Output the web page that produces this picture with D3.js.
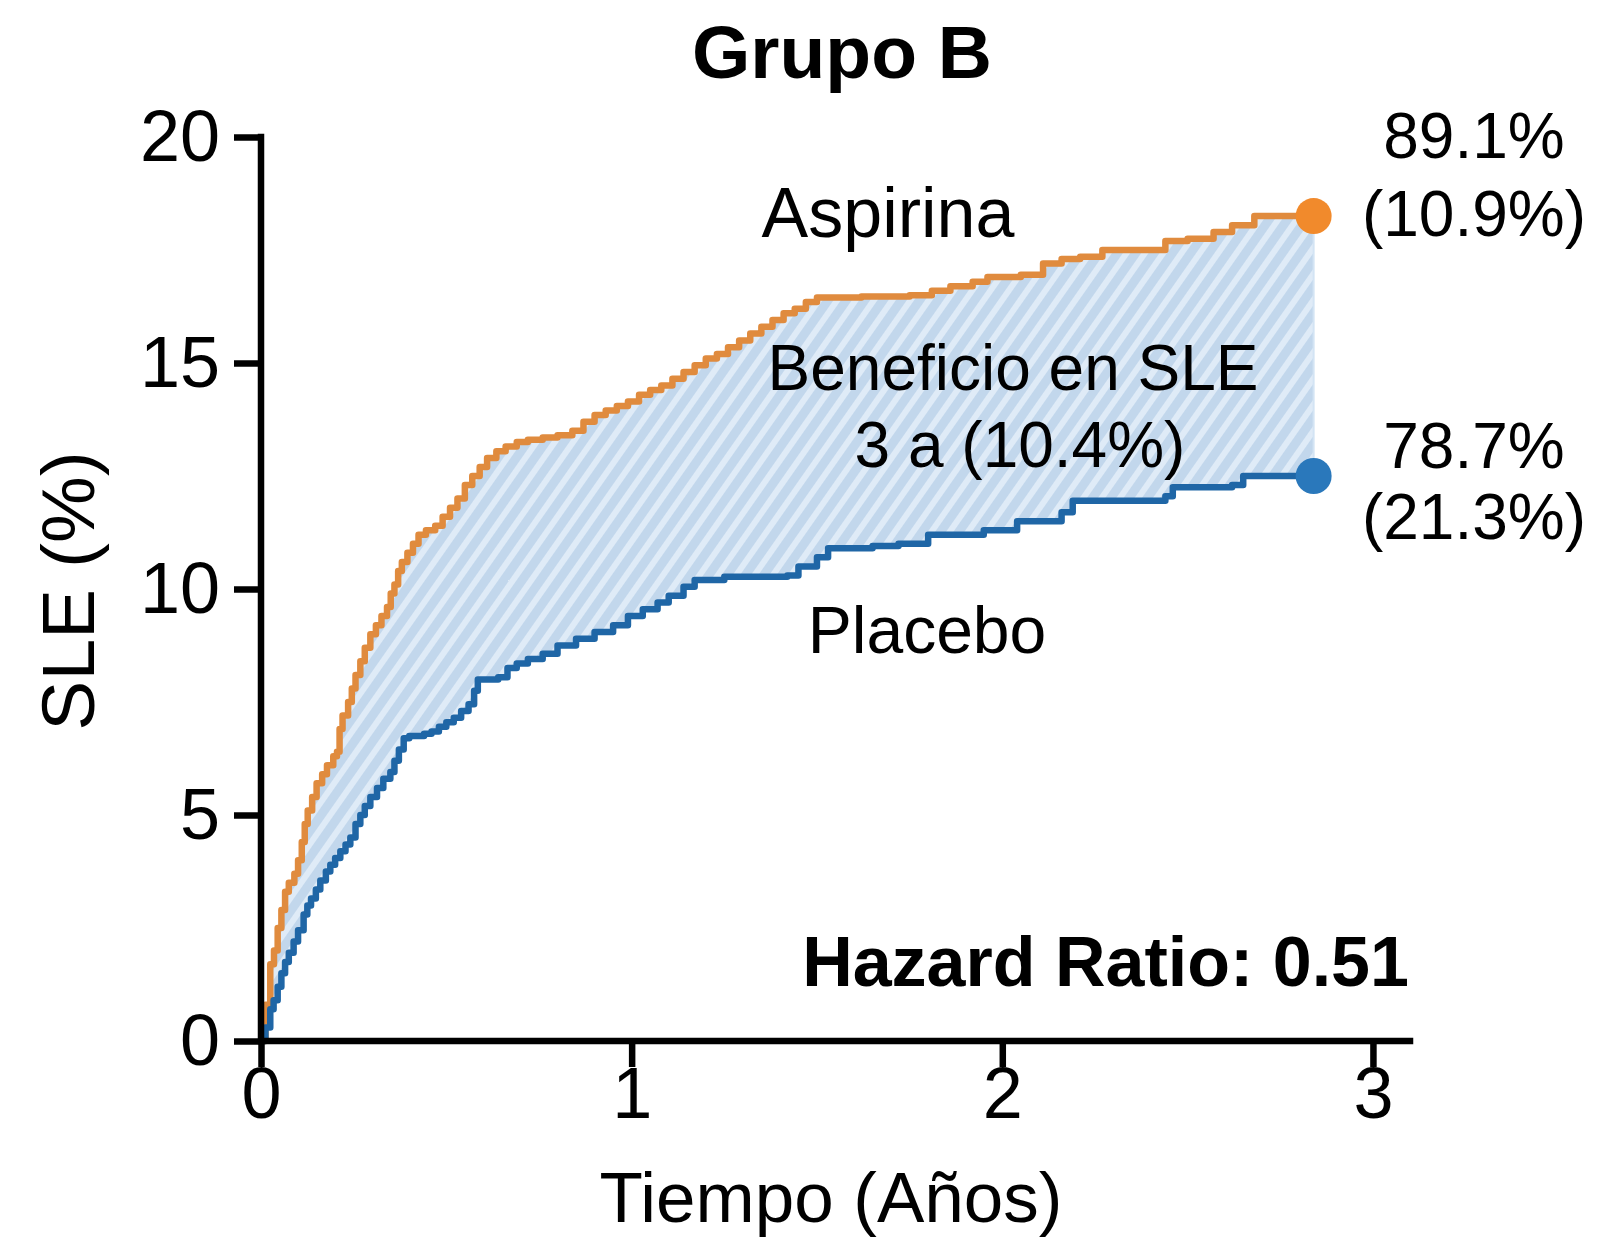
<!DOCTYPE html>
<html>
<head>
<meta charset="utf-8">
<script src="https://cdn.jsdelivr.net/npm/d3@7"></script>
<style>
  html, body { margin: 0; padding: 0; background: #ffffff; }
  svg { display: block; font-family: "Liberation Sans", Arial, Helvetica, sans-serif; }
</style>
</head>
<body>
<svg id="chart" width="1619" height="1246"></svg>
<script>
// Kaplan–Meier style step curves (time in years, SLE in %)
const aspirinaTime = [0,0.012,0.025,0.035,0.045,0.055,0.065,0.075,0.09,0.1,0.11,0.118,0.126,0.138,0.15,0.165,0.178,0.195,0.205,0.212,0.22,0.235,0.245,0.255,0.268,0.28,0.295,0.31,0.325,0.34,0.35,0.36,0.37,0.38,0.395,0.41,0.425,0.445,0.47,0.49,0.51,0.53,0.55,0.57,0.59,0.61,0.635,0.66,0.69,0.72,0.76,0.8,0.84,0.87,0.9,0.93,0.96,0.99,1.02,1.05,1.08,1.11,1.14,1.17,1.2,1.23,1.26,1.29,1.32,1.35,1.38,1.41,1.44,1.47,1.5,1.62,1.75,1.81,1.86,1.92,1.96,2.05,2.11,2.16,2.21,2.27,2.44,2.5,2.57,2.62,2.68,2.84];
const aspirinaSLE  = [0,0.8,1.7,2.0,2.5,2.9,3.3,3.5,3.7,4.0,4.4,4.8,5.1,5.4,5.7,5.9,6.1,6.3,6.4,6.9,7.2,7.5,7.8,8.1,8.4,8.7,9.0,9.2,9.4,9.6,9.9,10.1,10.4,10.6,10.8,11.0,11.2,11.3,11.4,11.6,11.8,12.0,12.3,12.5,12.7,12.9,13.05,13.15,13.25,13.3,13.35,13.4,13.5,13.7,13.85,13.95,14.05,14.15,14.3,14.4,14.5,14.65,14.8,14.95,15.1,15.2,15.35,15.5,15.65,15.8,15.95,16.1,16.2,16.35,16.45,16.47,16.5,16.6,16.7,16.8,16.9,16.95,17.2,17.3,17.35,17.5,17.7,17.75,17.9,18.05,18.25,18.25];

const placeboTime = [0,0.012,0.025,0.034,0.045,0.055,0.065,0.075,0.088,0.1,0.115,0.125,0.135,0.148,0.16,0.175,0.187,0.2,0.214,0.228,0.241,0.255,0.268,0.28,0.295,0.313,0.33,0.349,0.36,0.372,0.385,0.4,0.44,0.46,0.48,0.5,0.52,0.54,0.56,0.575,0.585,0.64,0.665,0.69,0.72,0.76,0.8,0.85,0.9,0.95,0.99,1.03,1.07,1.1,1.14,1.17,1.25,1.42,1.45,1.5,1.53,1.65,1.72,1.8,1.95,2.04,2.16,2.19,2.44,2.46,2.62,2.65,2.84];
const placeboSLE  = [0,0.3,0.7,0.9,1.2,1.5,1.75,1.95,2.2,2.45,2.8,3.0,3.15,3.35,3.55,3.75,3.9,4.05,4.2,4.35,4.5,4.8,5.0,5.2,5.4,5.6,5.8,5.95,6.2,6.45,6.7,6.75,6.8,6.85,6.95,7.05,7.15,7.3,7.45,7.75,8.0,8.05,8.25,8.35,8.45,8.57,8.75,8.9,9.05,9.2,9.4,9.55,9.7,9.85,10.05,10.2,10.27,10.3,10.5,10.7,10.9,10.95,11.0,11.2,11.3,11.5,11.7,11.95,12.05,12.25,12.3,12.5,12.5];

const xTickValues = [0, 1, 2, 3];
const yTickValues = [0, 5, 10, 15, 20];

const aspirinaEndLabels = ["89.1%", "(10.9%)"];
const placeboEndLabels  = ["78.7%", "(21.3%)"];
const benefitLabels     = ["Beneficio en SLE", "3 a (10.4%)"];
const hazardLabel       = "Hazard Ratio: 0.51";

const aspirina = aspirinaTime.map((t, i) => ({ t, v: aspirinaSLE[i] }));
const placebo  = placeboTime.map((t, i) => ({ t, v: placeboSLE[i] }));

const svg = d3.select("#chart");
const FONT = '"Liberation Sans", Arial, Helvetica, sans-serif';

const x = d3.scaleLinear().domain([0, 3.1]).range([261, 1410]);
const y = d3.scaleLinear().domain([0, 20]).range([1041, 137]);

// Hatched fill for the area between the two curves
const defs = svg.append("defs");
const pat = defs.append("pattern")
  .attr("id", "hatch")
  .attr("patternUnits", "userSpaceOnUse")
  .attr("width", 15).attr("height", 15)
  .attr("patternTransform", "rotate(35)");
pat.append("rect").attr("width", 15).attr("height", 15).attr("fill", "#c2d7ec");
pat.append("rect").attr("width", 6).attr("height", 15).attr("fill", "#dfebf7");

// Step-function lookup on the union of event times
const stepAt = (series, t) => {
  const i = d3.bisector(d => d.t).right(series, t) - 1;
  return series[Math.max(0, i)].v;
};
const tEnd = Math.min(aspirinaTime[aspirinaTime.length - 1], placeboTime[placeboTime.length - 1]);
const allTimes = Array.from(new Set(aspirinaTime.concat(placeboTime)))
  .filter(t => t <= tEnd).sort((a, b) => a - b);
const band = allTimes.map(t => ({ t, hi: stepAt(aspirina, t), lo: stepAt(placebo, t) }));

const area = d3.area()
  .x(d => x(d.t)).y0(d => y(d.lo)).y1(d => y(d.hi))
  .curve(d3.curveStepAfter);

svg.append("path")
  .datum(band)
  .attr("d", area)
  .attr("fill", "url(#hatch)")
  .attr("stroke", "#d3e4f4")
  .attr("stroke-width", 2);

// Curves
const line = d3.line().x(d => x(d.t)).y(d => y(d.v)).curve(d3.curveStepAfter);

svg.append("path").datum(aspirina).attr("d", line)
  .attr("fill", "none").attr("stroke", "#e08b3e").attr("stroke-width", 6.5)
  .attr("stroke-linejoin", "round");
svg.append("path").datum(placebo).attr("d", line)
  .attr("fill", "none").attr("stroke", "#1f66a6").attr("stroke-width", 6.5)
  .attr("stroke-linejoin", "round");

// End points
const aEnd = aspirina[aspirina.length - 1];
const pEnd = placebo[placebo.length - 1];
svg.append("circle").attr("cx", x(aEnd.t)).attr("cy", y(aEnd.v)).attr("r", 18).attr("fill", "#f18a2c");
svg.append("circle").attr("cx", x(pEnd.t)).attr("cy", y(pEnd.v)).attr("r", 18).attr("fill", "#2a78bb");

// Axes
const axisStyle = g => {
  g.selectAll(".tick line").attr("stroke", "#000").attr("stroke-width", 6.5);
  g.selectAll(".tick text").attr("fill", "#000").style("font-family", FONT).style("font-size", "72px");
  g.select(".domain").remove();
};

svg.append("g")
  .attr("transform", "translate(261,0)")
  .call(d3.axisLeft(y).tickValues(yTickValues).tickSize(27).tickPadding(14).tickFormat(d3.format("d")))
  .call(axisStyle);

svg.append("g")
  .attr("transform", "translate(0,1041)")
  .call(d3.axisBottom(x).tickValues(xTickValues).tickSize(26).tickPadding(0).tickFormat(d3.format("d")))
  .call(axisStyle);

// Axis lines
svg.append("path")
  .attr("d", `M${x(0)},${y(20)}V${y(0)}H${x.range()[1]}`)
  .attr("fill", "none").attr("stroke", "#000").attr("stroke-width", 6.5)
  .attr("stroke-linecap", "square");

// Titles
svg.append("text").attr("x", 842).attr("y", 78).attr("text-anchor", "middle")
  .style("font-size", "75px").style("font-weight", "bold").text("Grupo B");

svg.append("text").attr("transform", "translate(94,591) rotate(-90)").attr("text-anchor", "middle")
  .style("font-size", "75px").text("SLE (%)");

svg.append("text").attr("x", 831).attr("y", 1222).attr("text-anchor", "middle")
  .style("font-size", "71px").text("Tiempo (Años)");

// Curve annotations
svg.append("text").attr("x", 888).attr("y", 237).attr("text-anchor", "middle")
  .style("font-size", "70px").text("Aspirina");
svg.append("text").attr("x", 927).attr("y", 653).attr("text-anchor", "middle")
  .style("font-size", "66px").text("Placebo");

svg.append("text").attr("x", 1013).attr("y", 390).attr("text-anchor", "middle")
  .style("font-size", "64px").text(benefitLabels[0]);
svg.append("text").attr("x", 1020).attr("y", 467).attr("text-anchor", "middle")
  .style("font-size", "64px").text(benefitLabels[1]);

// End-point labels
const endLabel = (lines, cx, baselines) => lines.forEach((s, i) =>
  svg.append("text").attr("x", cx).attr("y", baselines[i]).attr("text-anchor", "middle")
    .style("font-size", "64px").text(s));
endLabel(aspirinaEndLabels, 1474, [158, 236]);
endLabel(placeboEndLabels, 1474, [468, 539]);

svg.append("text").attr("x", 1409).attr("y", 986).attr("text-anchor", "end")
  .style("font-size", "70px").style("font-weight", "bold").text(hazardLabel);
</script>
</body>
</html>
